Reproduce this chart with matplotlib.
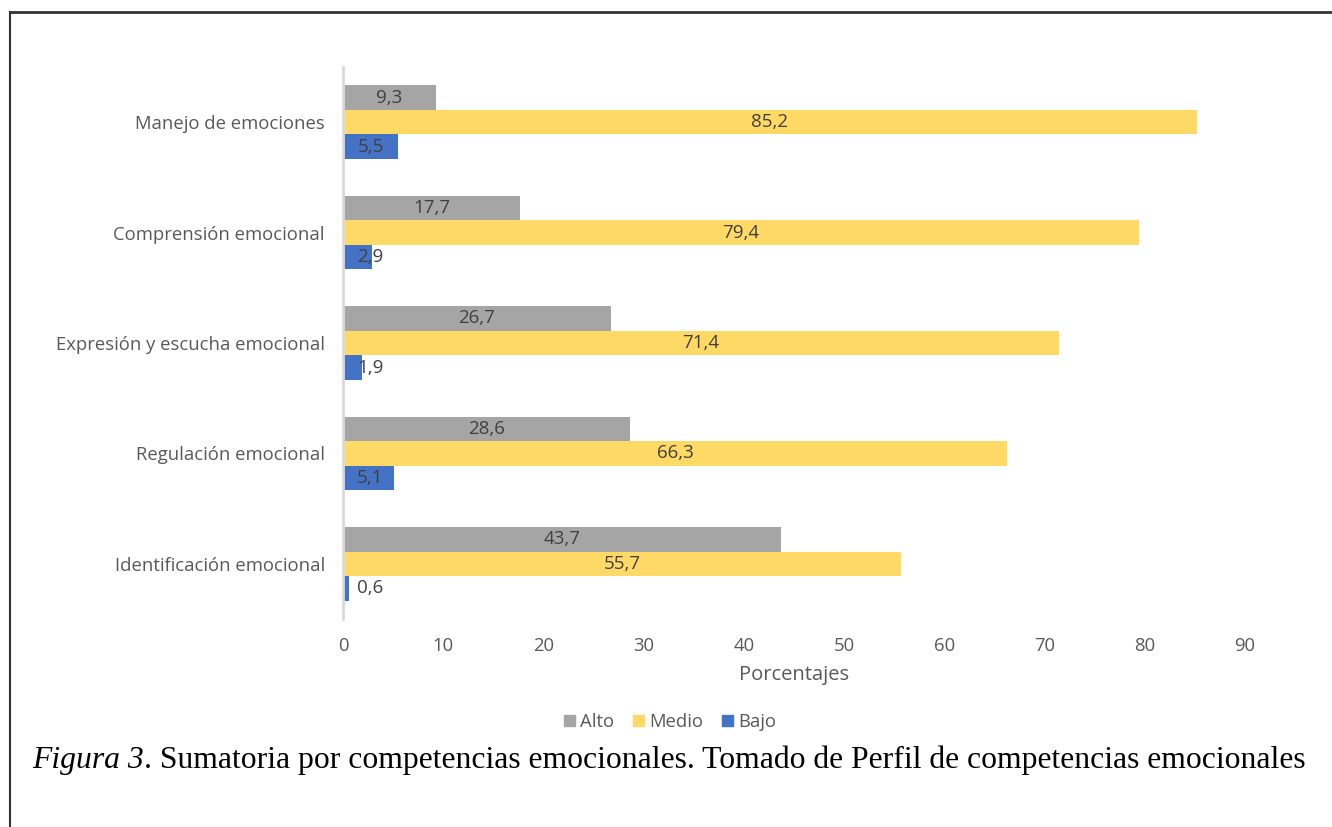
import matplotlib
matplotlib.use('Agg')
import matplotlib.pyplot as plt
import numpy as np
from matplotlib.patches import Patch
from matplotlib.lines import Line2D

categorias = ['Identificación emocional', 'Regulación emocional',
              'Expresión y escucha emocional', 'Comprensión emocional',
              'Manejo de emociones']
alto = [43.7, 28.6, 26.7, 17.7, 9.3]
medio = [55.7, 66.3, 71.4, 79.4, 85.2]
bajo = [0.6, 5.1, 1.9, 2.9, 5.5]
ticks_x = [0, 10, 20, 30, 40, 50, 60, 70, 80, 90]

c_alto = '#A5A5A5'
c_medio = '#FFD966'
c_bajo = '#4472C4'
txt = '#595959'

plt.rcParams['font.family'] = ['Open Sans', 'DejaVu Sans']

fig = plt.figure(figsize=(13.32, 8.27), dpi=100)
ax = fig.add_axes([0.2575, 0.2515, 0.6772, 0.6675])

y = np.arange(len(categorias))
h = 0.222
ax.barh(y + h, alto, height=h, color=c_alto, label='Alto')
ax.barh(y, medio, height=h, color=c_medio, label='Medio')
ax.barh(y - h, bajo, height=h, color=c_bajo, label='Bajo')

for serie, off in ((alto, h), (medio, 0), (bajo, -h)):
    for i, v in enumerate(serie):
        xc = max(v / 2, 2.7)
        ax.text(xc, i + off, f'{v:.1f}'.replace('.', ','), ha='center', va='center',
                fontsize=13.5, color='#404040')

ax.set_xlim(0, 90)
ax.set_ylim(-0.5, 4.5)
ax.set_yticks(y)
ax.set_yticklabels(categorias, fontsize=13.3, color=txt)
ax.set_xticks(ticks_x)
ax.set_xticklabels([str(t) for t in ticks_x], fontsize=13.3, color=txt)
ax.tick_params(axis='x', length=0, pad=13)
ax.tick_params(axis='y', length=0, pad=13)
for s in ('top', 'right', 'bottom'):
    ax.spines[s].set_visible(False)
ax.spines['left'].set_color('#D9D9D9')
ax.spines['left'].set_linewidth(2)
ax.set_xlabel('Porcentajes', fontsize=14.5, color=txt, labelpad=7)

handles = [Patch(color=c_alto, label='Alto'), Patch(color=c_medio, label='Medio'),
           Patch(color=c_bajo, label='Bajo')]
fig.legend(handles=handles, loc='center', bbox_to_anchor=(0.503, 0.127), ncol=3,
           frameon=False, fontsize=13.3, handlelength=0.6, handleheight=0.6,
           handletextpad=0.3, columnspacing=1.0, labelcolor=txt)

# pie de figura
r = fig.canvas.get_renderer()
t1 = fig.text(0.0245, 0.081, 'Figura 3', family='Liberation Serif', style='italic',
              fontsize=22.8, va='center', ha='left')
bb = t1.get_window_extent(renderer=r)
x2 = bb.x1 / fig.bbox.width
fig.text(x2, 0.081, '. Sumatoria por competencias emocionales. Tomado de Perfil de competencias emocionales',
         family='Liberation Serif', fontsize=22.8, va='center', ha='left')

# marco
fig.add_artist(Line2D([0.0075, 1.0], [0.985, 0.985], color='#333333', lw=2))
fig.add_artist(Line2D([0.0075, 0.0075], [0.0, 0.985], color='#333333', lw=1.5))

fig.savefig('out.png', dpi=100)
